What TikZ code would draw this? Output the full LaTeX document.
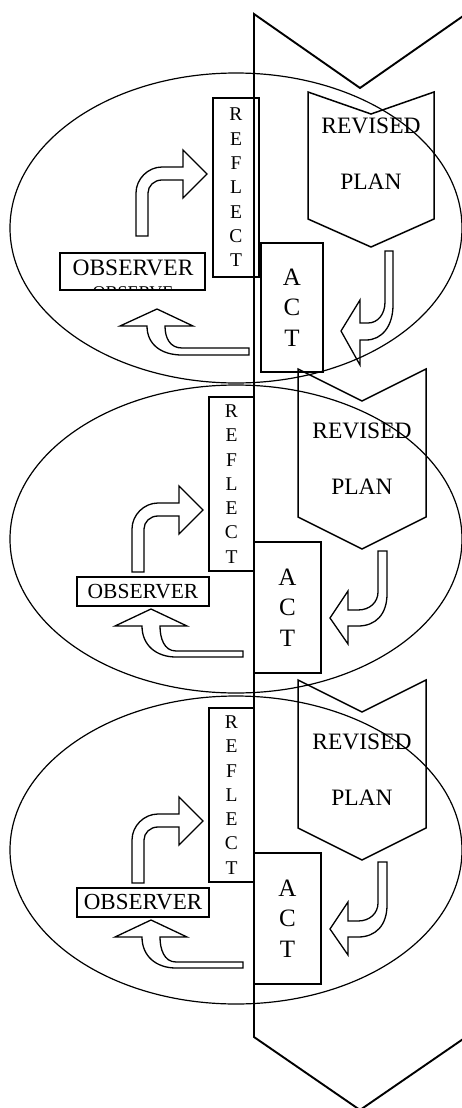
\documentclass[tikz,border=0pt]{standalone}
\usepackage{fontspec}
\setmainfont{Liberation Serif}
\tikzset{
  loopline/.style={line width=1.2pt},
  frameline/.style={line width=1.9pt},
  box/.style={draw,line width=1.5pt,inner sep=0pt,align=center},
  bendarrow/.style={line width=1.3pt,line join=miter},
  word/.style={inner sep=0pt,align=center}
}
\newcommand{\reflectword}{R\\E\\F\\L\\E\\C\\T}
\newcommand{\actword}{A\\C\\T}

\begin{document}
\begin{tikzpicture}[x=1pt,y=-1pt]
  \useasboundingbox (0,0) rectangle (461,1108);
  % long chevron behind the three loops
  \draw[frameline] (254,14) -- (360,88) -- (466,14) -- (466,1037) -- (360,1110) -- (254,1037) -- cycle;

  % first loop
  \draw[loopline] (236,228) ellipse [x radius=226, y radius=155];
  \node[box,minimum width=46pt,minimum height=179pt,font=\fontsize{19.5}{24.3}\selectfont] (reflect1) at (236,187.5) {\reflectword};
  \node[box,minimum width=62pt,minimum height=129pt,font=\fontsize{25}{30.5}\selectfont] (act1) at (292,307.5) {\actword};
  \draw[box] (308,92) -- (371,114) -- (434,92) -- (434,219) -- (371,247) -- (308,219) -- cycle;
  \node[word,font=\fontsize{23.5}{56}\selectfont] (plan1) at (371,154) {REVISED\\PLAN};
  \node[box,minimum width=145pt,minimum height=37pt] (observer1) at (132.5,271.5) {};
  \node[word,font=\fontsize{23.5}{28}\selectfont] (obstext1) at (133,268) {OBSERVER};
  \begin{scope}
    \clip (60,253) rectangle (205,290);
    \node[word,font=\fontsize{18}{20}\selectfont] (obsclip1) at (133,293) {OBSERVE};
  \end{scope}
  \draw[bendarrow] (136,236) -- (136,193) .. controls (136,179) and (148,167) .. (162,167) -- (183,167) -- (183,150) -- (207,174) -- (183,198) -- (183,180) -- (162,180) .. controls (154,180) and (148,186) .. (148,193) -- (148,236) -- cycle;
  \draw[bendarrow] (249,348) -- (182,348) .. controls (170,348) and (165,338) .. (165,326) -- (193,326) -- (157,309) -- (120,326) -- (147,326) .. controls (147,345) and (162,355) .. (182,355) -- (249,355) -- cycle;
  \draw[bendarrow] (385,251) -- (393,251) -- (393,305) .. controls (393,326) and (382,340) .. (366,340) -- (360,340) -- (360,365) -- (341,331) -- (360,300) -- (360,323) -- (368,323) .. controls (378,323) and (385,314) .. (385,302) -- cycle;

  % second and third loop
  \foreach \dy/\fs/\n in {0/21.5/2,311/23/3}{
    \begin{scope}[shift={(0,\dy)}]
      \draw[loopline] (236,539) ellipse [x radius=226, y radius=154];
      \node[box,minimum width=45pt,minimum height=174pt,font=\fontsize{19.5}{24.3}\selectfont] (reflect\n) at (231.5,484) {\reflectword};
      \node[box,minimum width=67pt,minimum height=131pt,font=\fontsize{25}{30.5}\selectfont] (act\n) at (287.5,607.5) {\actword};
      \draw[box] (298,369) -- (362,401) -- (426,369) -- (426,517) -- (362,549) -- (298,517) -- cycle;
      \node[word,font=\fontsize{23.5}{56}\selectfont] (plan\n) at (362,459) {REVISED\\PLAN};
      \node[box,minimum width=132pt,minimum height=29pt,font=\fontsize{\fs}{24}\selectfont] (observer\n) at (143,591.5) {OBSERVER};
      \draw[bendarrow] (132,572) -- (132,529) .. controls (132,515) and (144,503) .. (158,503) -- (179,503) -- (179,486) -- (203,510) -- (179,534) -- (179,516) -- (158,516) .. controls (150,516) and (144,522) .. (144,529) -- (144,572) -- cycle;
      \draw[bendarrow] (243,651) -- (176,651) .. controls (164,651) and (160,638) .. (160,626) -- (187,626) -- (151,609) -- (115,626) -- (142,626) .. controls (142,645) and (156,657) .. (176,657) -- (243,657) -- cycle;
      \draw[bendarrow] (378,551) -- (387,551) -- (387,594) .. controls (387,614) and (376,626) .. (358,626) -- (348,626) -- (348,644) -- (330,618) -- (348,591) -- (348,610) -- (358,610) .. controls (370,610) and (378,602) .. (378,592) -- cycle;
    \end{scope}
  }
\end{tikzpicture}
\end{document}
